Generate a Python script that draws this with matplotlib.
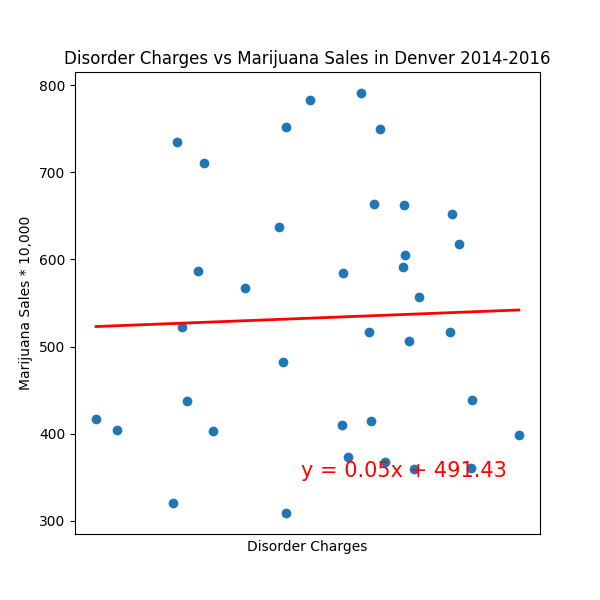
import matplotlib
matplotlib.use("Agg")
import matplotlib.pyplot as plt
import numpy as np

# disorder charges (x) and marijuana sales / 10,000 (y)
disorder = [631, 650, 700, 704, 708, 713, 723, 728, 736, 765, 795, 799,
            802, 802, 823, 852, 853, 857, 869, 876, 878, 881, 886, 891,
            907, 908, 909, 912, 917, 921, 949, 951, 957, 968, 969, 1011]
sales = [417, 404, 320, 735, 523, 438, 587, 711, 403, 567, 637, 482,
         752, 309, 783, 410, 584, 373, 791, 517, 415, 664, 750, 368,
         591, 662, 605, 506, 360, 557, 517, 652, 618, 361, 439, 399]

slope = 0.05
intercept = 491.43
line_eq = "y = " + str(slope) + "x + " + str(intercept)

x = np.array(disorder)
regress_values = x * slope + intercept

plt.figure(figsize=(6, 6), dpi=100)
plt.scatter(disorder, sales)
plt.plot(x, regress_values, "r-", linewidth=2)
plt.annotate(line_eq, (815, 350), fontsize=15, color="red")
plt.xticks([])
plt.xlabel("Disorder Charges")
plt.ylabel("Marijuana Sales * 10,000")
plt.title("Disorder Charges vs Marijuana Sales in Denver 2014-2016")
plt.savefig("out.png")
